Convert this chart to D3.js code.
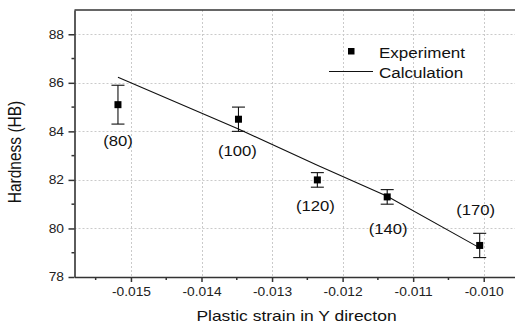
<!DOCTYPE html>
<html>
<head>
<meta charset="utf-8">
<script src="https://cdn.jsdelivr.net/npm/d3@7"></script>
<style>
  html, body { margin: 0; padding: 0; background: #fff; }
  svg { display: block; font-family: "Liberation Sans", Arial, sans-serif; }
</style>
</head>
<body>
<svg id="chart" width="515" height="325"></svg>
<script>
// Hardness vs. plastic strain in Y direction
const strain      = [-0.015184, -0.013476, -0.012358, -0.011368, -0.010057];
const hardness    = [85.1, 84.5, 82.0, 81.3, 79.3];
const hardnessErr = [0.8, 0.5, 0.3, 0.3, 0.5];
const calculated  = [86.23, 84.1, 82.6, 81.33, 79.2];
const pointLabels = ["(80)", "(100)", "(120)", "(140)", "(170)"];
const xTicks      = [-0.015, -0.014, -0.013, -0.012, -0.011, -0.010];
const yTicks      = [78, 80, 82, 84, 86, 88];
const legendNames = ["Experiment", "Calculation"];

// label placement around each point (dx, dy of label centre)
const labelOffset = [[0, 36], [-1, 32], [-2, 26], [1, 32], [-4, -36]];

const svg = d3.select("#chart");
const L = 74.5, T = 10, R = 519, B = 277;
const SX = 1.15; // text is drawn slightly wide

const x = d3.scaleLinear().domain([-0.0158, -0.0095]).range([L, R]);
const y = d3.scaleLinear().domain([78, 89]).range([B, T]);

// grid
const grid = svg.append("g").attr("stroke", "#cacaca").attr("stroke-width", 1)
  .attr("stroke-dasharray", "2,2");
grid.selectAll("line.v").data(xTicks).join("line")
  .attr("x1", d => Math.round(x(d)) + 0.5).attr("x2", d => Math.round(x(d)) + 0.5)
  .attr("y1", T).attr("y2", B);
grid.selectAll("line.h").data(yTicks.filter(d => d > 78)).join("line")
  .attr("y1", d => Math.round(y(d)) + 0.5).attr("y2", d => Math.round(y(d)) + 0.5)
  .attr("x1", L).attr("x2", R);

// minor ticks
const xMinor = d3.range(-0.0155, -0.0094, 0.001);
const yMinor = d3.range(79, 89, 2);

const axisColor = "#333";
const xAxis = svg.append("g").attr("transform", `translate(0,${B})`)
  .call(d3.axisBottom(x).tickValues(xTicks).tickFormat(d => d.toFixed(3))
    .tickSize(5).tickSizeOuter(0).tickPadding(5));
xAxis.append("g").selectAll("line").data(xMinor).join("line")
  .attr("x1", d => x(d)).attr("x2", d => x(d)).attr("y1", 0).attr("y2", 3)
  .attr("stroke", axisColor).attr("stroke-width", 1.5);

const yAxis = svg.append("g").attr("transform", `translate(${L},0)`)
  .call(d3.axisLeft(y).tickValues(yTicks).tickFormat(d3.format("d"))
    .tickSize(6).tickSizeOuter(0).tickPadding(4));
yAxis.append("g").selectAll("line").data(yMinor).join("line")
  .attr("x1", 0).attr("x2", -3).attr("y1", d => y(d)).attr("y2", d => y(d))
  .attr("stroke", axisColor).attr("stroke-width", 1.5);

[xAxis, yAxis].forEach(g => {
  g.select(".domain").attr("stroke", axisColor).attr("stroke-width", 1.6);
  g.selectAll(".tick line").attr("stroke", axisColor).attr("stroke-width", 1.5);
  g.selectAll(".tick text").attr("fill", "#222").attr("font-size", 12)
    .attr("font-family", "'Liberation Sans', Arial, sans-serif");
});
xAxis.selectAll(".tick text").attr("transform", `scale(${SX},1)`);
yAxis.selectAll(".tick text").attr("x", -10.5 / SX).attr("transform", `scale(${SX},1)`);

// top frame
svg.append("line").attr("x1", L).attr("x2", R).attr("y1", T).attr("y2", T)
  .attr("stroke", axisColor).attr("stroke-width", 1.6);

// calculation line
const pts = strain.map((s, i) => ({ s, h: hardness[i], e: hardnessErr[i], c: calculated[i], lab: pointLabels[i] }));
svg.append("path").datum(pts)
  .attr("fill", "none").attr("stroke", "#111").attr("stroke-width", 1.1)
  .attr("d", d3.line().x(d => x(d.s)).y(d => y(d.c)));

// error bars
const eb = svg.append("g").attr("stroke", "#111").attr("stroke-width", 1.1);
pts.forEach(p => {
  const cx = x(p.s);
  eb.append("line").attr("x1", cx).attr("x2", cx).attr("y1", y(p.h + p.e)).attr("y2", y(p.h - p.e));
  eb.append("line").attr("x1", cx - 6.5).attr("x2", cx + 6.5).attr("y1", y(p.h + p.e)).attr("y2", y(p.h + p.e));
  eb.append("line").attr("x1", cx - 6.5).attr("x2", cx + 6.5).attr("y1", y(p.h - p.e)).attr("y2", y(p.h - p.e));
});

// markers
svg.append("g").selectAll("rect").data(pts).join("rect")
  .attr("x", d => x(d.s) - 3.5).attr("y", d => y(d.h) - 3.5)
  .attr("width", 7).attr("height", 7).attr("fill", "#000");

// helper: text stretched horizontally about its anchor
function wideText(g, tx, ty, str, size, anchor) {
  return g.append("text")
    .attr("transform", `translate(${tx},${ty}) scale(${SX},1)`)
    .attr("text-anchor", anchor || "start")
    .attr("font-size", size).attr("fill", "#111").text(str);
}

// point labels
pts.forEach((p, i) => {
  wideText(svg, x(p.s) + labelOffset[i][0], y(p.h) + labelOffset[i][1], p.lab, 14.5, "middle")
    .attr("dominant-baseline", "central");
});

// legend
const lg = svg.append("g");
lg.append("rect").attr("x", 348).attr("y", 48).attr("width", 6.5).attr("height", 6.5).attr("fill", "#000");
wideText(lg, 379, 57.5, legendNames[0], 14.8);
lg.append("line").attr("x1", 329).attr("x2", 373).attr("y1", 71.5).attr("y2", 71.5)
  .attr("stroke", "#111").attr("stroke-width", 1.1);
wideText(lg, 379, 78, legendNames[1], 14.8);

// axis titles
wideText(svg, 296.5, 321, "Plastic strain in Y directon", 15.2, "middle");
svg.append("text")
  .attr("transform", `translate(21,152) scale(${SX},1) rotate(-90)`)
  .attr("text-anchor", "middle").attr("font-size", 15.5).attr("fill", "#111")
  .text("Hardness (HB)");
</script>
</body>
</html>
